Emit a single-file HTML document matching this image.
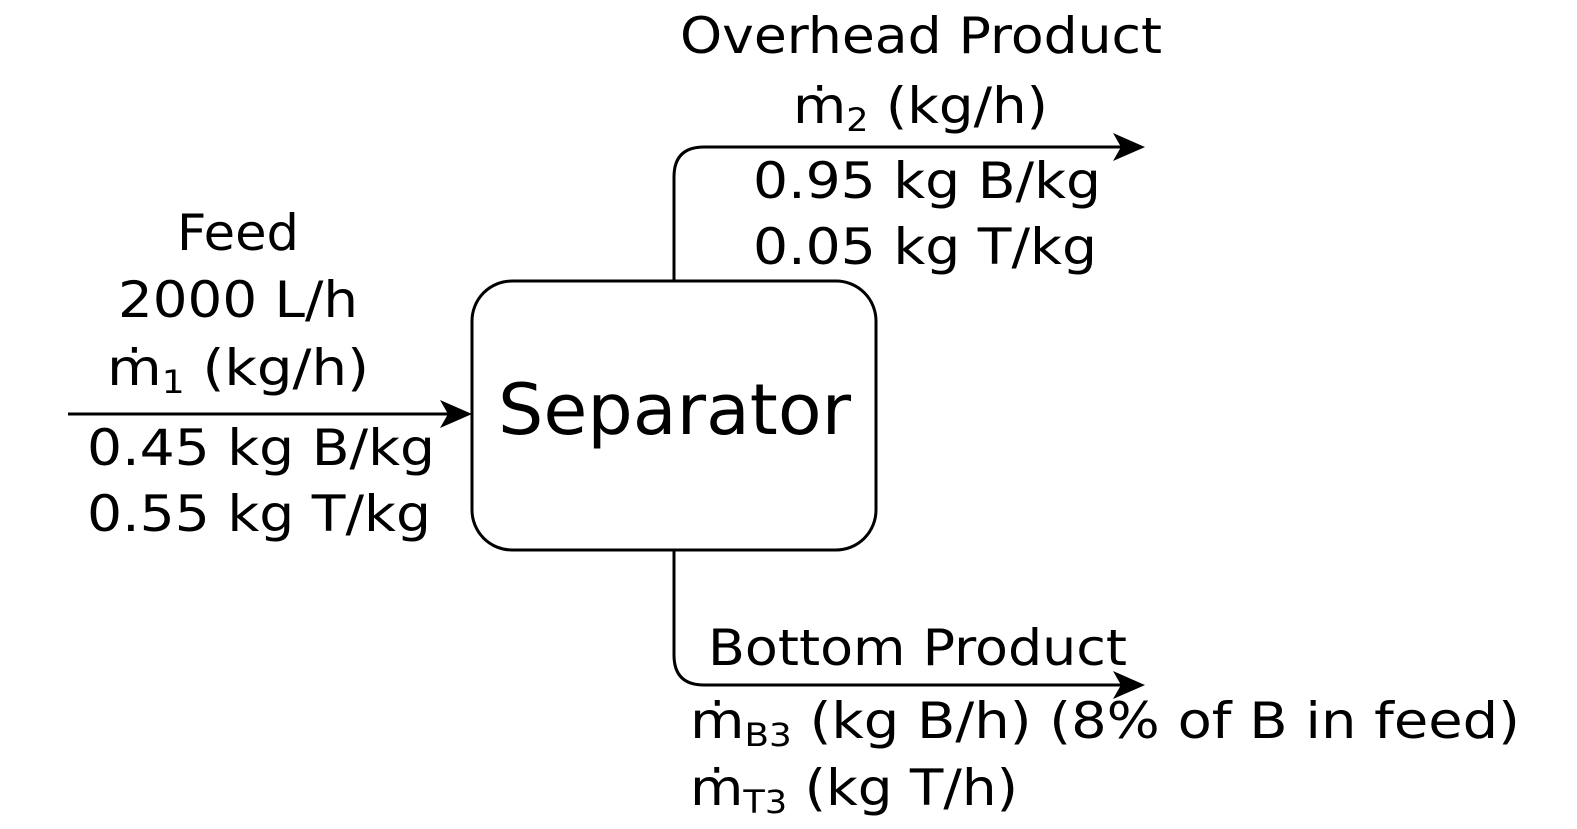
<!DOCTYPE html>
<html><head><meta charset="utf-8"><style>
html,body{margin:0;padding:0;background:#fff;}
svg{display:block;}
text{font-family:"DejaVu Sans","Liberation Sans",sans-serif;fill:#000;}
</style></head><body>
<svg width="1577" height="829" viewBox="0 0 1577 829" xmlns="http://www.w3.org/2000/svg">
<g stroke="#000" stroke-width="3" fill="none">
<rect x="472" y="281" width="404" height="269" rx="40" ry="40"/>
<line x1="68" y1="414" x2="460" y2="414"/>
<path d="M674 281 V177 Q674 147 704 147 H1132"/>
<path d="M674 550 V655 Q674 685 704 685 H1132"/>
</g>
<g fill="#000">
<path d="M472 414 L440 400 L448 414 L440 428 Z"/>
<path d="M1145 147 L1113 133 L1121 147 L1113 161 Z"/>
<path d="M1145 685 L1113 671 L1121 685 L1113 699 Z"/>
</g>
<g font-size="50" lengthAdjust="spacingAndGlyphs">
<text x="680" y="53" textLength="482" lengthAdjust="spacingAndGlyphs">Overhead Product</text>
<text x="793" y="123" textLength="255" lengthAdjust="spacingAndGlyphs">ṁ<tspan font-size="32" dy="8">2</tspan><tspan dy="-8"> (kg/h)</tspan></text>
<text x="753" y="198" textLength="348" lengthAdjust="spacingAndGlyphs">0.95 kg B/kg</text>
<text x="753" y="264" textLength="344" lengthAdjust="spacingAndGlyphs">0.05 kg T/kg</text>
<text x="177" y="250" textLength="122" lengthAdjust="spacingAndGlyphs">Feed</text>
<text x="118" y="317" textLength="240" lengthAdjust="spacingAndGlyphs">2000 L/h</text>
<text x="107" y="385" textLength="262" lengthAdjust="spacingAndGlyphs">ṁ<tspan font-size="32" dy="8">1</tspan><tspan dy="-8"> (kg/h)</tspan></text>
<text x="708" y="665" textLength="419" lengthAdjust="spacingAndGlyphs">Bottom Product</text>
<text x="87" y="465" textLength="348" lengthAdjust="spacingAndGlyphs">0.45 kg B/kg</text>
<text x="87" y="531" textLength="344" lengthAdjust="spacingAndGlyphs">0.55 kg T/kg</text>
<text x="690" y="738" textLength="830" lengthAdjust="spacingAndGlyphs">ṁ<tspan font-size="32" dy="8">B3</tspan><tspan dy="-8"> (kg B/h) (8% of B in feed)</tspan></text>
<text x="690" y="805" textLength="328" lengthAdjust="spacingAndGlyphs">ṁ<tspan font-size="32" dy="8">T3</tspan><tspan dy="-8"> (kg T/h)</tspan></text>
</g>
<text x="498" y="434" font-size="70" textLength="353" lengthAdjust="spacingAndGlyphs">Separator</text>
</svg>
</body></html>
